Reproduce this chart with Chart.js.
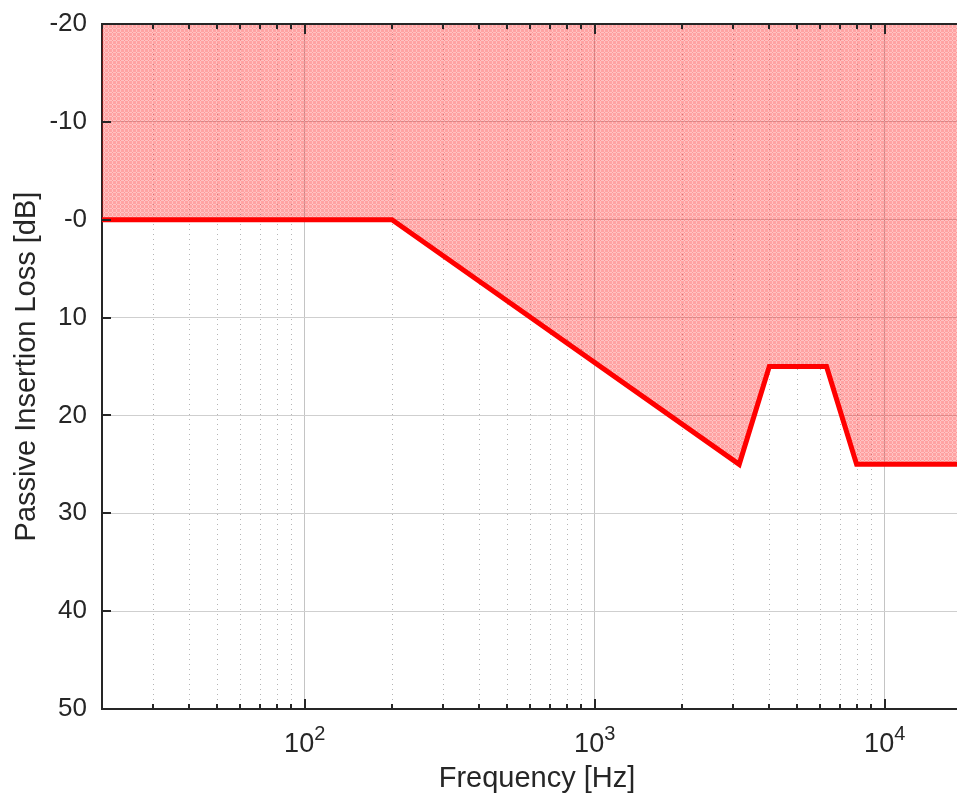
<!DOCTYPE html>
<html>
<head>
<meta charset="utf-8">
<script src="https://cdn.jsdelivr.net/npm/chart.js@4/dist/chart.umd.min.js"></script>
<style>
    html, body { margin: 0; padding: 0; background: #fff; overflow: hidden; }
    /* plot runs past the right edge of the window like the reference */
    #wrap { width: 972px; height: 798px; position: relative; }
</style>
</head>
<body>
<div id="wrap"><canvas id="lossChart"></canvas></div>
<script>
// Limit curve (Hz / dB)
const frequencies = [20, 200, 3150, 4000, 6300, 8000, 20000];
const insertionLoss = [0, 0, 25, 15, 15, 25, 25];

// Axes
const xRange = [20, 20000];
const xMajorTicks = [100, 1000, 10000];
const xMajorExponents = ['2', '3', '4'];
const yTicks = [-20, -10, 0, 10, 20, 30, 40, 50];
const yTickLabels = ['-20', '-10', '-0', '10', '20', '30', '40', '50'];

const TEXT = '#262626';
const FONT = '"Liberation Sans", Arial, Helvetica, sans-serif';

// minor log ticks 20..90, 200..900, ...
const xAllTicks = [];
[10, 100, 1000, 10000].forEach(d => {
    for (let m = 1; m <= 9; m++) {
        const v = m * d;
        if (v >= xRange[0] && v <= xRange[1]) xAllTicks.push(v);
    }
});
const isMajor = v => xMajorTicks.includes(v);

// light red hatched fill
function makeFillPattern() {
    const c = document.createElement('canvas');
    c.width = 4; c.height = 4;
    const g = c.getContext('2d');
    g.fillStyle = 'rgba(255, 0, 0, 0.36)';
    g.fillRect(0, 0, 4, 4);
    g.clearRect(0, 0, 4, 1);
    g.clearRect(0, 0, 1, 4);
    g.fillStyle = 'rgba(255, 0, 0, 0.24)';
    g.fillRect(0, 0, 4, 1);
    g.fillRect(0, 0, 1, 4);
    return g.createPattern(c, 'repeat');
}

// dotted minor grid, under the data
const minorGridPlugin = {
    id: 'minorGrid',
    beforeDatasetsDraw(chart) {
        const { ctx, chartArea: a, scales: { x } } = chart;
        ctx.save();
        ctx.strokeStyle = '#b5b5b5';
        ctx.lineWidth = 1;
        ctx.setLineDash([1, 4]);
        ctx.beginPath();
        xAllTicks.filter(v => !isMajor(v) && v > xRange[0]).forEach(v => {
            const px = Math.round(x.getPixelForValue(v)) + 0.5;
            ctx.moveTo(px, a.top);
            ctx.lineTo(px, a.bottom);
        });
        ctx.stroke();
        ctx.restore();
    }
};

// frame on top, inward tick marks and 10^n labels
const framePlugin = {
    id: 'frame',
    afterDraw(chart) {
        const { ctx, chartArea: a, scales: { x, y } } = chart;
        ctx.save();
        ctx.strokeStyle = TEXT;
        ctx.lineWidth = 2;
        ctx.beginPath();
        ctx.moveTo(a.left, a.top);
        ctx.lineTo(a.right, a.top);
        xAllTicks.forEach(v => {
            const px = Math.round(x.getPixelForValue(v));
            const len = isMajor(v) ? 10 : 5;
            ctx.moveTo(px, a.bottom);
            ctx.lineTo(px, a.bottom - len);
            ctx.moveTo(px, a.top);
            ctx.lineTo(px, a.top + len);
        });
        yTicks.forEach(v => {
            const py = Math.round(y.getPixelForValue(v));
            ctx.moveTo(a.left, py);
            ctx.lineTo(a.left + 9, py);
        });
        ctx.stroke();

        ctx.fillStyle = TEXT;
        ctx.textBaseline = 'alphabetic';
        ctx.textAlign = 'left';
        xMajorTicks.forEach((v, i) => {
            const px = x.getPixelForValue(v);
            ctx.font = '27px ' + FONT;
            const wBase = ctx.measureText('10').width;
            ctx.font = '20px ' + FONT;
            const wExp = ctx.measureText(xMajorExponents[i]).width;
            const x0 = px - (wBase + wExp) / 2;
            ctx.font = '27px ' + FONT;
            ctx.fillText('10', x0, 752);
            ctx.font = '20px ' + FONT;
            ctx.fillText(xMajorExponents[i], x0 + wBase, 740);
        });
        ctx.restore();
    }
};

const ctx = document.getElementById('lossChart');
new Chart(ctx, {
    type: 'line',
    data: {
        datasets: [{
            label: 'Passive Insertion Loss',
            data: frequencies.map((f, i) => ({ x: f, y: insertionLoss[i] })),
            borderColor: '#ff0000',
            borderWidth: 5,
            backgroundColor: makeFillPattern(),
            fill: { value: -20 },
            pointRadius: 0,
            tension: 0,
            borderJoinStyle: 'miter'
        }]
    },
    options: {
        responsive: true,
        maintainAspectRatio: false,
        animation: false,
        layout: { padding: { top: 24, right: 0, bottom: 0, left: 0 } },
        plugins: {
            legend: { display: false },
            tooltip: { enabled: false }
        },
        scales: {
            x: {
                type: 'logarithmic',
                min: xRange[0],
                max: xRange[1],
                afterBuildTicks: s => { s.ticks = xAllTicks.map(v => ({ value: v, major: isMajor(v) })); },
                afterFit: s => { s.height = 89; s.paddingLeft = 0; s.paddingRight = 0; },
                ticks: { display: false },
                grid: {
                    drawTicks: false,
                    color: c => isMajor(c.tick && c.tick.value) ? '#c4c4c4' : 'rgba(0,0,0,0)',
                    lineWidth: 1
                },
                border: { color: TEXT, width: 2 },
                title: {
                    display: true,
                    text: 'Frequency [Hz]',
                    color: TEXT,
                    font: { family: FONT, size: 29, lineHeight: 1.2 },
                    padding: { top: 0, bottom: 2 }
                }
            },
            y: {
                type: 'linear',
                reverse: true,
                min: -20,
                max: 50,
                afterBuildTicks: s => { s.ticks = yTicks.map(v => ({ value: v })); },
                afterFit: s => { s.width = 102; s.paddingTop = 0; s.paddingBottom = 0; },
                ticks: {
                    color: TEXT,
                    padding: 15,
                    font: { family: FONT, size: 26 },
                    callback: (v, i) => yTickLabels[i]
                },
                grid: {
                    drawTicks: false,
                    color: '#cfcfcf',
                    lineWidth: 1
                },
                border: { color: TEXT, width: 2 },
                title: {
                    display: true,
                    text: 'Passive Insertion Loss [dB]',
                    color: TEXT,
                    font: { family: FONT, size: 29, lineHeight: 1.2 },
                    padding: { top: 10, bottom: 0 }
                }
            }
        }
    },
    plugins: [minorGridPlugin, framePlugin]
});
</script>
</body>
</html>
